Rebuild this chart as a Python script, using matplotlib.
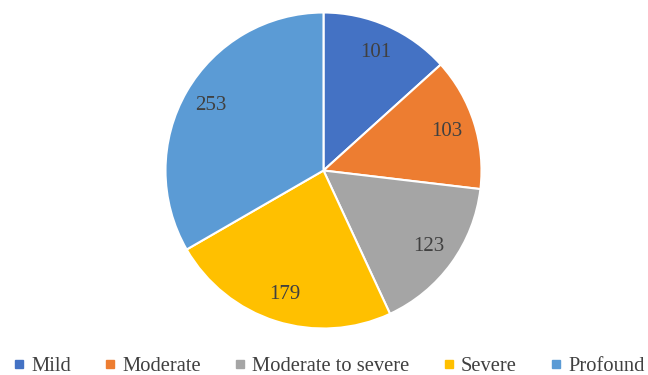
import matplotlib.pyplot as plt
from matplotlib.lines import Line2D

categories = ["Mild", "Moderate", "Moderate to severe", "Severe", "Profound"]
counts = [101, 103, 123, 179, 253]
colors = ["#4472C4", "#ED7D31", "#A5A5A5", "#FFC000", "#5B9BD5"]

plt.rcParams['font.family'] = ['Liberation Serif', 'DejaVu Serif']

fig = plt.figure(figsize=(6.48, 3.75), dpi=100)
cx, cy, r = 323.5, 375 - 170.5, 158
ax = fig.add_axes([(cx - r) / 648, (cy - r) / 375, 2 * r / 648, 2 * r / 375])

wedges, texts = ax.pie(counts, colors=colors, startangle=90, counterclock=False,
                       labels=[str(c) for c in counts], labeldistance=0.82,
                       wedgeprops=dict(edgecolor="white", linewidth=1.5),
                       textprops=dict(fontsize=15, color="#404040"))
for t in texts:
    t.set_horizontalalignment("center")
    t.set_verticalalignment("center")
ax.set_xlim(-1, 1)
ax.set_ylim(-1, 1)
ax.set_aspect("equal")

handles = [Line2D([], [], marker="s", linestyle="", markersize=6,
                  markerfacecolor=c, markeredgecolor=c) for c in colors]
fig.legend(handles, categories, loc="center", bbox_to_anchor=(0.507, 1 - 366 / 375),
           ncol=5, frameon=False, fontsize=14.8, handlelength=0.6, handletextpad=0.3,
           columnspacing=1.6, labelcolor="#404040")

fig.savefig("out.png", dpi=100)
